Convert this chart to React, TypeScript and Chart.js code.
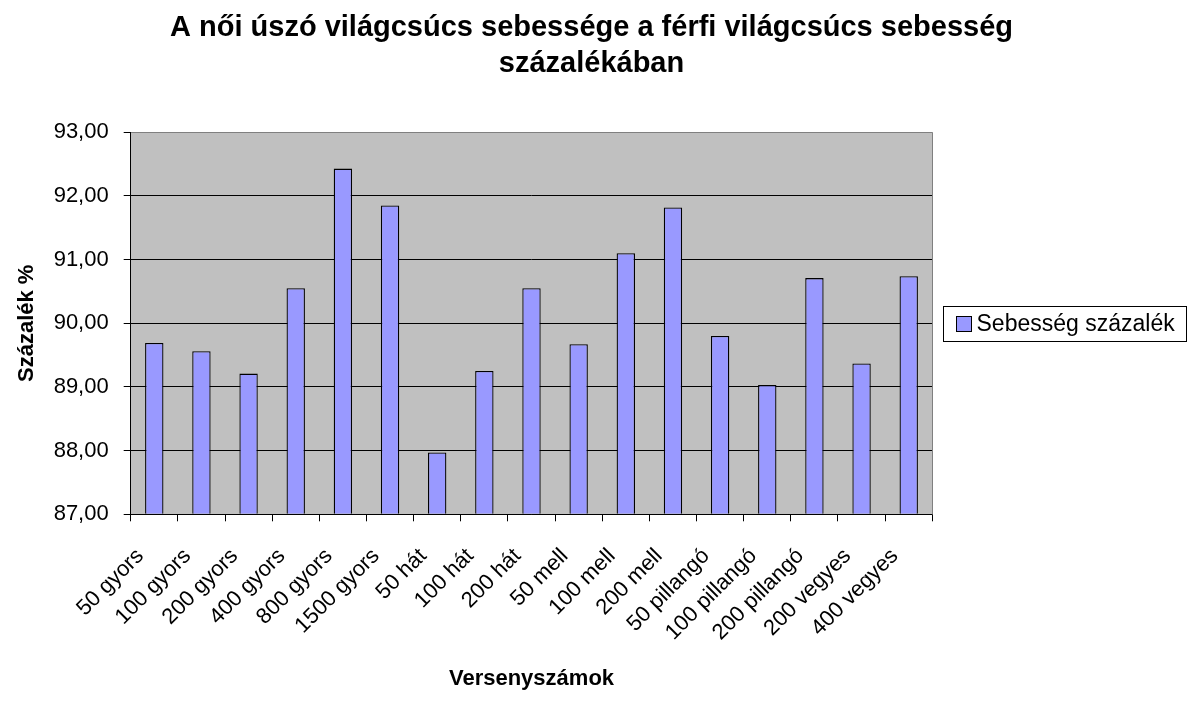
import React, { useEffect, useRef } from "react";
import { Chart, registerables } from "chart.js";

Chart.register(...registerables);

const categories = [
  "50 gyors", "100 gyors", "200 gyors", "400 gyors", "800 gyors", "1500 gyors",
  "50 hát", "100 hát", "200 hát", "50 mell", "100 mell", "200 mell",
  "50 pillangó", "100 pillangó", "200 pillangó", "200 vegyes", "400 vegyes",
];
const seriesLabel = "Sebesség százalék";
const values = [
  89.69, 89.56, 89.21, 90.55, 92.43, 91.85,
  87.97, 89.25, 90.55, 89.67, 91.10, 91.82,
  89.80, 89.03, 90.71, 89.37, 90.74,
];
const titleLines = ["A női úszó világcsúcs sebessége a férfi világcsúcs sebesség", "százalékában"];
const yTitle = "Százalék %";
const xTitle = "Versenyszámok";
const yMin = 87;
const yMax = 93;

const FONT = "'Liberation Sans', Arial, sans-serif";
const BAR_COLOR = "#9999FF";

const plotBg = {
  id: "plotBg",
  beforeDraw(chart: any) {
    const { ctx, chartArea: a } = chart;
    ctx.save();
    ctx.fillStyle = "#C0C0C0";
    ctx.fillRect(a.left, a.top, a.right - a.left, a.bottom - a.top);
    ctx.restore();
  },
  afterDraw(chart: any) {
    const { ctx, chartArea: a } = chart;
    ctx.save();
    ctx.strokeStyle = "#808080";
    ctx.lineWidth = 1;
    ctx.beginPath();
    const t = Math.round(a.top) + 0.5;
    const r = Math.round(a.right) + 0.5;
    ctx.moveTo(Math.round(a.left) + 0.5, t);
    ctx.lineTo(r, t);
    ctx.lineTo(r, Math.round(a.bottom) + 0.5);
    ctx.stroke();
    ctx.restore();
  },
};

const boxLegend = {
  id: "boxLegend",
  afterDraw(chart: any) {
    const { ctx, chartArea: a } = chart;
    const ds = chart.data.datasets[0];
    const left = Math.round(a.right) + 11.5;
    const cy = (a.top + a.bottom) / 2;
    const w = 243;
    const h = 35;
    const top = Math.round(cy - h / 2) + 0.5;
    ctx.save();
    ctx.fillStyle = "#FFFFFF";
    ctx.fillRect(left, top, w, h);
    ctx.strokeStyle = "#000000";
    ctx.lineWidth = 1;
    ctx.strokeRect(left, top, w, h);
    const sw = 15;
    const sx = left + 13;
    const sy = Math.round(cy - sw / 2) + 0.5;
    ctx.fillStyle = ds.backgroundColor;
    ctx.fillRect(sx, sy, sw, sw);
    ctx.strokeRect(sx, sy, sw, sw);
    ctx.fillStyle = "#000000";
    ctx.font = `23px ${FONT}`;
    ctx.textBaseline = "middle";
    ctx.textAlign = "left";
    ctx.fillText(ds.label, sx + sw + 5, cy + 1);
    ctx.restore();
  },
};

export default function App() {
  const ref = useRef<HTMLCanvasElement | null>(null);

  useEffect(() => {
    document.body.style.margin = "0";
    const canvas = ref.current!;
    const chart = new Chart(canvas, {
      type: "bar",
      data: {
        labels: categories,
        datasets: [
          {
            label: seriesLabel,
            data: values,
            backgroundColor: BAR_COLOR,
            borderColor: "#000000",
            borderWidth: 1.3,
            borderSkipped: "start",
            base: yMin,
            categoryPercentage: 0.39,
            barPercentage: 1,
          },
        ],
      },
      options: {
        responsive: false,
        animation: false,
        devicePixelRatio: 1,
        layout: { padding: { left: 0, right: 9, top: 0, bottom: 0 } },
        plugins: {
          legend: { display: false },
          tooltip: { enabled: false },
          title: {
            display: true,
            text: titleLines,
            color: "#000000",
            font: { family: FONT, size: 29, weight: "bold", lineHeight: 36 / 29 },
            padding: { top: 10.3, bottom: 50 },
          },
        },
        scales: {
          x: {
            type: "category",
            offset: true,
            grid: {
              display: true,
              drawOnChartArea: false,
              drawTicks: true,
              tickLength: 7,
              offset: true,
              color: "#000000",
              tickColor: "#000000",
            },
            border: { display: true, color: "#000000", width: 1 },
            ticks: {
              color: "#000000",
              font: { family: FONT, size: 22, lineHeight: 1.2 },
              maxRotation: 45,
              minRotation: 45,
              autoSkip: false,
              padding: 22,
              labelOffset: -14,
            },
            title: {
              display: true,
              text: xTitle,
              color: "#000000",
              font: { family: FONT, size: 22, weight: "bold", lineHeight: 1.2 },
              padding: { top: 0, bottom: 11.7 },
            },
            afterFit(scale: any) {
              scale.height = 704 - 514.3;
            },
          },
          y: {
            type: "linear",
            position: "left",
            min: yMin,
            max: yMax,
            grid: {
              display: true,
              drawTicks: true,
              tickLength: 7,
              color: (c: any) => (c.tick && c.tick.value === yMax ? "#808080" : "#000000"),
              tickColor: "#000000",
            },
            border: { display: true, color: "#000000", width: 1 },
            ticks: {
              stepSize: 1,
              color: "#000000",
              font: { family: FONT, size: 22 },
              padding: 15,
              callback: (v: any) => Number(v).toFixed(2).replace(".", ","),
            },
            title: {
              display: true,
              text: yTitle,
              color: "#000000",
              font: { family: FONT, size: 22, weight: "bold", lineHeight: 1.2 },
              padding: { top: 14.2, bottom: 0 },
            },
            afterFit(scale: any) {
              scale.width = 130.7;
            },
          },
          spacer: {
            type: "linear",
            position: "right",
            display: true,
            grid: { display: false, drawTicks: false },
            border: { display: false },
            ticks: { display: false },
            afterFit(scale: any) {
              scale.width = 1192 - 932.3 - 9;
            },
          },
        },
      },
      plugins: [plotBg, boxLegend],
    } as any);
    return () => chart.destroy();
  }, []);

  return (
    <div style={{ position: "absolute", left: 0, top: 0, width: 1192, height: 704, background: "#fff" }}>
      <canvas ref={ref} width={1192} height={704} style={{ display: "block", width: 1192, height: 704 }} />
    </div>
  );
}
